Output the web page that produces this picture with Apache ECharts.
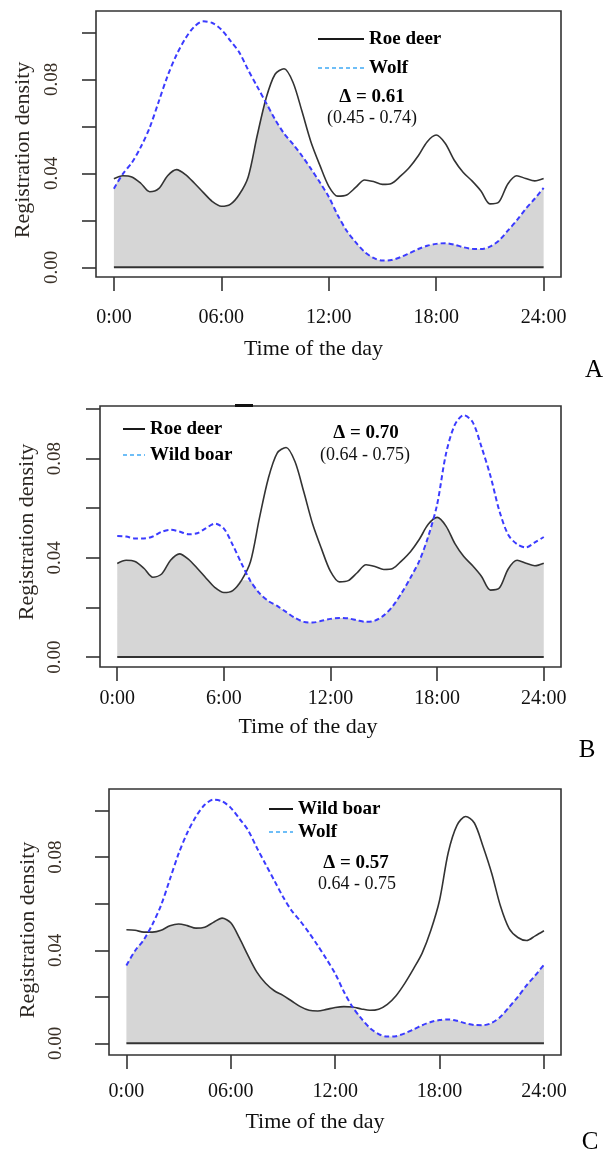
<!DOCTYPE html>
<html>
<head>
<meta charset="utf-8">
<script src="https://cdn.jsdelivr.net/npm/echarts@6/dist/echarts.min.js"></script>
<style>
html,body{margin:0;padding:0;background:#fff;}
#chart{width:607px;height:1154px;}
</style>
</head>
<body>
<div id="chart"></div>
<script>
// ---------------- data ----------------
const hours = [0,0.5,1,1.5,2,2.5,3,3.5,4,4.5,5,5.5,6,6.5,7,7.5,8,8.5,9,9.5,10,10.5,11,11.5,12,
  12.5,13,13.5,14,14.5,15,15.5,16,16.5,17,17.5,18,18.5,19,19.5,20,20.5,21,21.5,22,22.5,23,23.5,24];

const roeDeer = [0.0377,0.0390,0.0385,0.0358,0.0322,0.0335,0.0390,0.0416,0.0395,0.0358,0.0318,0.0280,0.0260,
  0.0268,0.0310,0.0385,0.0560,0.0720,0.0822,0.0845,0.0788,0.0665,0.0535,0.0435,0.0345,
  0.0303,0.0308,0.0340,0.0372,0.0365,0.0353,0.0357,0.0388,0.0425,0.0475,0.0535,0.0563,0.0528,0.0457,
  0.0405,0.0368,0.0325,0.0270,0.0278,0.0355,0.0390,0.0378,0.0368,0.0378];

const wolf = [0.0335,0.0398,0.0445,0.0512,0.0595,0.0705,0.0815,0.0905,0.0975,0.1025,0.1047,0.1040,0.1012,
  0.0965,0.0915,0.0840,0.0770,0.0700,0.0630,0.0570,0.0525,0.0475,0.0420,0.0362,0.0300,
  0.0222,0.0156,0.0107,0.0066,0.0040,0.0029,0.0031,0.0043,0.0060,0.0078,0.0092,0.0100,0.0103,0.0097,
  0.0086,0.0079,0.0078,0.0088,0.0114,0.0156,0.0200,0.0249,0.0292,0.0338];

const wildBoar = [0.0488,0.0486,0.0478,0.0478,0.0486,0.0505,0.0513,0.0506,0.0495,0.0499,0.0520,0.0538,0.0518,
  0.0452,0.0376,0.0306,0.0258,0.0226,0.0206,0.0182,0.0158,0.0142,0.0139,0.0146,0.0154,
  0.0158,0.0156,0.0148,0.0142,0.0147,0.0168,0.0205,0.0258,0.0320,0.0388,0.0486,0.0615,0.0820,0.0937,
  0.0975,0.0947,0.0846,0.0730,0.0590,0.0493,0.0455,0.0442,0.0462,0.0484];

const xTicks = [0, 6, 12, 18, 24];
const xLabelsAC = ['0:00', '06:00', '12:00', '18:00', '24:00'];
const xLabelsB = ['0:00', '6:00', '12:00', '18:00', '24:00'];
const yTicks = [0, 0.02, 0.04, 0.06, 0.08, 0.10];
const yLabelTicks = [0, 0.04, 0.08];

const deltaTexts = ['Δ = 0.61', 'Δ = 0.70', 'Δ = 0.57'];
const ciTexts = ['(0.45 - 0.74)', '(0.64 - 0.75)', '0.64 - 0.75'];
const panelLetters = ['A', 'B', 'C'];

// ---------------- styling / layout ----------------
const FONT = '"Liberation Serif","Times New Roman",Times,serif';
const BLACK = '#333333';
const BLUE = '#3b3bff';
const LEG_SOLID = {color: '#1a1a1a', width: 2, type: 'solid'};
const LEG_DASH = {color: '#3fa9f5', width: 1.5, type: [4, 3]};
const HIDE_SYMBOL = {opacity: 0, color: 'rgba(0,0,0,0)', borderWidth: 0};

const panels = [
  {grid: {left: 96, top: 11, width: 465, height: 266}, x: [-1.0, 24.97], y: [-0.0041, 0.1091],
   black: ['Roe deer', roeDeer], blue: ['Wolf', wolf], xLabels: xLabelsAC,
   xLabelMargin: 31, yLabelMargin: 34, yNameGap: 62, yNamePad: [0, 12, 0, 0], xNameGap: 61, xNamePad: [0, 30, 0, 0],
   legend: {left: 317, top: 29, itemWidth: 46, itemGap: 9},
   delta: [372, 97], ci: [372, 118], letter: [594, 370]},
  {grid: {left: 100, top: 406, width: 461, height: 261}, x: [-0.97, 24.97], y: [-0.0040, 0.1012],
   black: ['Roe deer', roeDeer], blue: ['Wild boar', wildBoar], xLabels: xLabelsB,
   xLabelMargin: 22, yLabelMargin: 35, yNameGap: 62, yNamePad: [0, 0, 0, 9], xNameGap: 49, xNamePad: [0, 45, 0, 0],
   legend: {left: 122, top: 419, itemWidth: 22, itemGap: 6},
   delta: [366, 433], ci: [365, 455], letter: [587, 750]},
  {grid: {left: 109, top: 789, width: 452, height: 266}, x: [-1.0, 24.98], y: [-0.0050, 0.1093],
   black: ['Wild boar', wildBoar], blue: ['Wolf', wolf], xLabels: xLabelsAC,
   xLabelMargin: 27, yLabelMargin: 43, yNameGap: 70, yNamePad: [0, 16, 0, 0], xNameGap: 56, xNamePad: [0, 40, 0, 0],
   legend: {left: 268, top: 799, itemWidth: 24, itemGap: 3},
   delta: [356, 863], ci: [357, 884], letter: [590, 1142]}
];

function pairs(vals) { return hours.map((h, i) => [h, vals[i]]); }
function overlapPairs(a, b) { return hours.map((h, i) => [h, Math.min(a[i], b[i])]); }

const grids = [], xAxes = [], yAxes = [], series = [], legends = [], graphics = [];

panels.forEach((p, i) => {
  grids.push(Object.assign({show: true, borderColor: '#333', borderWidth: 1.6, backgroundColor: 'transparent', containLabel: false}, p.grid));
  const labels = p.xLabels;
  xAxes.push({
    gridIndex: i, type: 'value', min: p.x[0], max: p.x[1],
    axisLine: {show: false, onZero: false},
    axisTick: {show: true, length: 14, lineStyle: {color: '#333', width: 1.6}, customValues: xTicks},
    axisLabel: {customValues: xTicks, margin: p.xLabelMargin, fontFamily: FONT, fontSize: 20, color: '#111',
      formatter: v => labels[xTicks.indexOf(v)]},
    splitLine: {show: false},
    name: 'Time of the day', nameLocation: 'middle', nameGap: p.xNameGap,
    nameTextStyle: {fontFamily: FONT, fontSize: 22, color: '#111', padding: p.xNamePad}
  });
  yAxes.push({
    gridIndex: i, type: 'value', min: p.y[0], max: p.y[1],
    axisLine: {show: false, onZero: false},
    axisTick: {show: true, length: 14, lineStyle: {color: '#333', width: 1.6}, customValues: yTicks},
    axisLabel: {customValues: yLabelTicks, rotate: 90, margin: p.yLabelMargin, fontFamily: FONT, fontSize: 19, color: '#3a3128',
      formatter: v => v.toFixed(2)},
    splitLine: {show: false},
    name: 'Registration density', nameLocation: 'middle', nameGap: p.yNameGap, nameRotate: 90,
    nameTextStyle: {fontFamily: FONT, fontSize: 22, color: '#2a2520', padding: p.yNamePad}
  });
  // overlap area
  series.push({
    name: 'overlap ' + panelLetters[i], type: 'line', xAxisIndex: i, yAxisIndex: i,
    data: overlapPairs(p.black[1], p.blue[1]), smooth: 0.3, symbol: 'none',
    lineStyle: {width: 0, opacity: 0}, areaStyle: {color: '#d6d6d6', opacity: 1}, z: 1, silent: true
  });
  // baseline at zero
  series.push({
    name: 'baseline ' + panelLetters[i], type: 'line', xAxisIndex: i, yAxisIndex: i,
    data: [[hours[0], 0], [hours[hours.length - 1], 0]], symbol: 'none',
    lineStyle: {color: '#333', width: 2}, z: 2, silent: true
  });
  series.push({
    name: p.black[0], type: 'line', xAxisIndex: i, yAxisIndex: i,
    data: pairs(p.black[1]), smooth: 0.3, symbol: 'none',
    lineStyle: {color: BLACK, width: 1.6}, z: 3
  });
  series.push({
    name: p.blue[0], type: 'line', xAxisIndex: i, yAxisIndex: i,
    data: pairs(p.blue[1]), smooth: 0.3, symbol: 'none',
    lineStyle: {color: BLUE, width: 2, type: [5, 3]}, z: 4
  });
  legends.push({
    orient: 'vertical', left: p.legend.left, top: p.legend.top, padding: 0,
    itemWidth: p.legend.itemWidth, itemHeight: 14, itemGap: p.legend.itemGap, selectedMode: false,
    textStyle: {fontFamily: FONT, fontSize: 19, fontWeight: 'bold', color: '#000', lineHeight: 20},
    data: [
      {name: p.black[0], lineStyle: LEG_SOLID, itemStyle: HIDE_SYMBOL},
      {name: p.blue[0], lineStyle: LEG_DASH, itemStyle: HIDE_SYMBOL}
    ]
  });
  graphics.push({type: 'text', x: p.delta[0], y: p.delta[1], z: 10,
    style: {text: deltaTexts[i], font: 'bold 19px ' + FONT, fill: '#000', align: 'center', verticalAlign: 'middle', textAlign: 'center', textVerticalAlign: 'middle'}});
  graphics.push({type: 'text', x: p.ci[0], y: p.ci[1], z: 10,
    style: {text: ciTexts[i], font: '18px ' + FONT, fill: '#111', align: 'center', verticalAlign: 'middle', textAlign: 'center', textVerticalAlign: 'middle'}});
  graphics.push({type: 'text', x: p.letter[0], y: p.letter[1], z: 10,
    style: {text: panelLetters[i], font: '25px ' + FONT, fill: '#000', align: 'center', verticalAlign: 'middle', textAlign: 'center', textVerticalAlign: 'middle'}});
});

// small dark mark on top border of panel B
graphics.push({type: 'line', z: 10, shape: {x1: 235, y1: 405.5, x2: 253, y2: 405.5}, style: {stroke: '#111', lineWidth: 3}});

const chart = echarts.init(document.getElementById('chart'), null, {renderer: 'canvas'});
chart.setOption({
  animation: false,
  backgroundColor: '#fff',
  grid: grids,
  xAxis: xAxes,
  yAxis: yAxes,
  legend: legends,
  series: series,
  graphic: {elements: graphics}
});
</script>
</body>
</html>
